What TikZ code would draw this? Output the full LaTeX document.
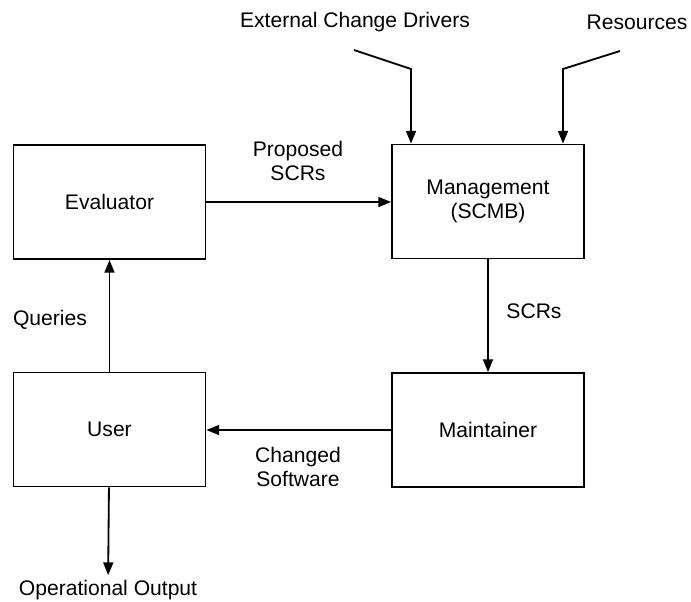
\documentclass[tikz,border=0pt]{standalone}
\usepackage{fontspec}
\setmainfont{Liberation Sans}
\usetikzlibrary{arrows.meta}
\tikzset{
  unit/.style={draw, line width=1.3pt, minimum width=4.8cm, minimum height=2.85cm, align=center},
  flow/.style={line width=1.3pt, -{Triangle[length=0.32cm,width=0.25cm]}},
  lbl/.style={align=center}
}
\begin{document}
\begin{tikzpicture}[x=0.025cm, y=-0.025cm, font=\fontsize{15}{17}\selectfont]
\useasboundingbox (0,0) rectangle (691,601);

% boxes
\node[unit] (evaluator) at (109.5,202) {Evaluator};
\node[unit] (management) at (488,201.5) {Management\\(SCMB)};
\node[unit] (user) at (109.5,429.5) {User};
\node[unit] (maintainer) at (488,430) {Maintainer};

% outside inputs
\node[lbl] (drivers) at (355,22) {External Change Drivers};
\node[lbl] (resources) at (637,22) {Resources};
\coordinate (d1) at (354,50);
\coordinate (d2) at (411,69);
\coordinate (r1) at (620,51);
\coordinate (r2) at (563,69);
\draw[flow] (d1) -- (d2) -- (d2 |- management.north);
\draw[flow] (r1) -- (r2) -- (r2 |- management.north);

% flows
\draw[flow] (evaluator.east) -- (evaluator.east -| management.west);
\draw[flow] (management) -- (maintainer);
\draw[flow] (maintainer.west) -- (maintainer.west -| user.east);
\draw[flow] (user) -- (evaluator);
\node[lbl] (output) at (108,590) {Operational Output};
\draw[flow] (user) -- (output);

% labels
\node[lbl] (proposed) at (298,161) {Proposed\\SCRs};
\node[lbl] (scrs) at (534,311) {SCRs};
\node[lbl] (queries) at (50,320) {Queries};
\node[lbl] (changed) at (298,467) {Changed\\Software};
\end{tikzpicture}
\end{document}
